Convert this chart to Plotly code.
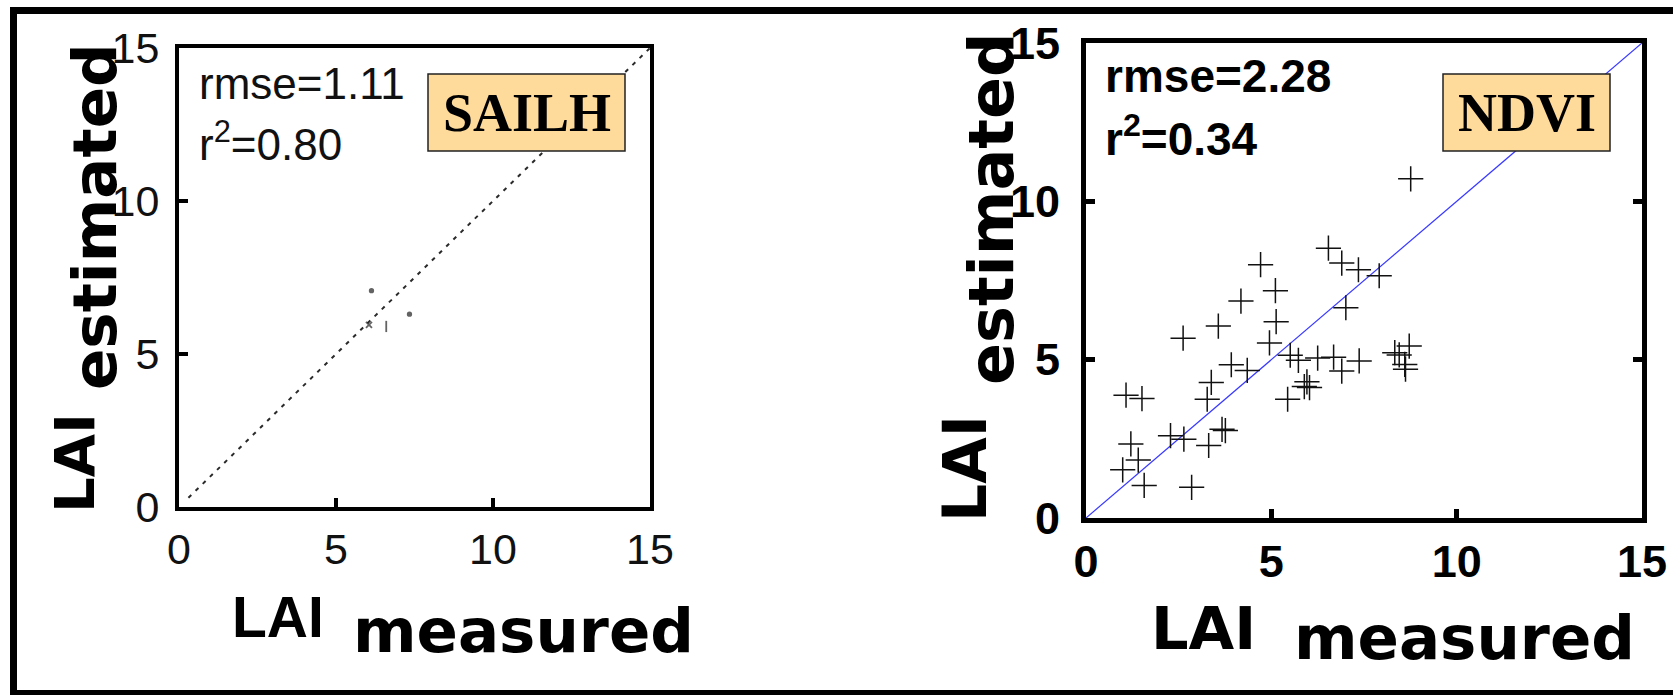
import plotly.graph_objects as go

W, H = 1673, 695

# ---------------- data ----------------
ticks = [0, 5, 10, 15]
tick_text = ["0", "5", "10", "15"]

# SAILH panel: 1:1 dashed line and a few stray marks
sailh_line_x = [0.3, 15.0]
sailh_line_y = [0.3, 15.0]
sailh_pts_x = [6.13, 7.34, 6.60, 6.05]
sailh_pts_y = [7.07, 6.30, 5.90, 5.95]
sailh_rmse = "rmse=1.11"
sailh_r2 = "r<sup>2</sup>=0.80"

# NDVI panel: measured vs estimated LAI
ndvi_measured = [8.76, 6.54, 6.90, 7.35, 7.91, 4.71, 5.11, 4.18, 5.13, 3.57,
                 2.62, 7.01, 4.95, 5.51, 5.73, 6.25, 6.68, 6.90, 7.37, 8.33,
                 8.45, 8.72, 8.60, 8.62, 3.92, 4.35, 3.38, 3.27, 1.08, 1.51,
                 5.44, 5.96, 5.89, 6.03, 2.28, 2.64, 3.67, 3.76, 3.31, 1.21,
                 1.41, 0.99, 1.57, 2.85]
ndvi_estimated = [10.71, 8.52, 8.05, 7.84, 7.65, 8.00, 7.18, 6.85, 6.20, 6.06,
                  5.68, 6.64, 5.53, 5.14, 4.98, 5.05, 5.08, 4.64, 4.96, 5.22,
                  5.15, 5.43, 4.85, 4.70, 4.84, 4.66, 4.28, 3.75, 3.88, 3.77,
                  3.75, 4.30, 4.15, 4.12, 2.60, 2.49, 2.80, 2.76, 2.29, 2.34,
                  1.83, 1.52, 1.03, 0.97]
ndvi_line_x = [0, 15]
ndvi_line_y = [0, 15]
ndvi_rmse = "rmse=2.28"
ndvi_r2 = "r<sup>2</sup>=0.34"


def px(x):
    return x / W


def py(y):
    return 1 - y / H


SANS = "Liberation Sans, Arial, sans-serif"
HEAVY = "DejaVu Sans, Liberation Sans, sans-serif"
SERIF = "Liberation Serif, Times New Roman, serif"

fig = go.Figure()

fig.add_trace(go.Scatter(x=sailh_line_x, y=sailh_line_y, mode="lines",
                         line=dict(color="#2a2a2a", width=2, dash="4px,6px"),
                         xaxis="x", yaxis="y", showlegend=False, hoverinfo="skip"))
fig.add_trace(go.Scatter(x=sailh_pts_x, y=sailh_pts_y, mode="markers",
                         marker=dict(symbol=["circle", "circle", "line-ns", "x-thin"],
                                     size=[3.5, 3.5, 8, 6], color="#222222",
                                     line=dict(color="#222222", width=1.8)),
                         xaxis="x", yaxis="y", showlegend=False))

fig.add_trace(go.Scatter(x=ndvi_line_x, y=ndvi_line_y, mode="lines",
                         line=dict(color="#3838ff", width=1.2),
                         xaxis="x2", yaxis="y2", showlegend=False, hoverinfo="skip"))
fig.add_trace(go.Scatter(x=ndvi_measured, y=ndvi_estimated, mode="markers",
                         marker=dict(symbol="cross-thin", size=18, color="#111111",
                                     line=dict(color="#111111", width=1.5)),
                         xaxis="x2", yaxis="y2", showlegend=False))


def axis(domain, anchor, lw, tfont, mirror, standoff):
    return dict(domain=domain, anchor=anchor, range=[0, 15], tickvals=ticks,
                ticktext=tick_text, ticks="inside", ticklen=9, tickwidth=lw - 0.5,
                tickcolor="black", showline=True, linewidth=lw, linecolor="black",
                mirror=mirror, showgrid=False, zeroline=False, tickfont=tfont,
                ticklabelstandoff=standoff, fixedrange=True, automargin=False)


left_tf = dict(family=SANS, size=43, color="#111111")
right_tf = dict(family=SANS, size=45, color="#000000", weight=700)

fig.update_layout(
    template="none",
    width=W, height=H,
    margin=dict(l=0, r=0, t=0, b=0, autoexpand=False),
    paper_bgcolor="white", plot_bgcolor="white",
    xaxis=axis([px(179), px(650)], "y", 4, left_tf, True, 1),
    yaxis=axis([py(507), py(48)], "x", 4, left_tf, True, 7),
    xaxis2=axis([px(1086), px(1642)], "y2", 5, right_tf, True, 0),
    yaxis2=axis([py(518), py(43)], "x2", 5, right_tf, "ticks", 12),
)

shapes = [
    dict(type="rect", xref="paper", yref="paper", x0=px(13.5), x1=1.02,
         y0=py(693.5), y1=py(10.5), line=dict(color="black", width=7), layer="above"),
    dict(type="rect", xref="paper", yref="paper", x0=px(428), x1=px(625),
         y0=py(151), y1=py(74), fillcolor="#FFDB9B",
         line=dict(color="#222222", width=1.5), layer="above"),
    dict(type="rect", xref="paper", yref="paper", x0=px(1443), x1=px(1610),
         y0=py(151), y1=py(74), fillcolor="#FFDB9B",
         line=dict(color="#222222", width=1.5), layer="above"),
]
fig.update_layout(shapes=shapes)


def ann(text, x, y, font, xanchor="center", yanchor="middle", angle=0):
    return dict(text=text, x=px(x), y=py(y), xref="paper", yref="paper",
                xanchor=xanchor, yanchor=yanchor, showarrow=False,
                textangle=angle, font=font)


annots = [
    # panel labels
    ann("<b>SAILH</b>", 526.5, 113, dict(family=SERIF, size=54, color="black")),
    ann("<b>NDVI</b>", 1526.5, 113, dict(family=SERIF, size=54, color="black")),
    # statistics
    ann(sailh_rmse, 197, 83, dict(family=SANS, size=44, color="#111111"), xanchor="left"),
    ann(sailh_r2, 197, 141, dict(family=SANS, size=44, color="#111111"), xanchor="left"),
    ann("<b>" + ndvi_rmse + "</b>", 1103, 76, dict(family=SANS, size=46, color="black"), xanchor="left"),
    ann("<b>" + ndvi_r2 + "</b>", 1103, 136, dict(family=SANS, size=46, color="black"), xanchor="left"),
    # left axis titles
    ann("<b>estimated</b>", 94, 217, dict(family=HEAVY, size=61, color="black"), angle=-90),
    ann("<b>LAI</b>", 74, 463, dict(family=HEAVY, size=56, color="black"), angle=-90),
    ann("<b>LAI</b>", 278, 617, dict(family=SANS, size=57, color="black")),
    ann("<b>measured</b>", 523, 630, dict(family=HEAVY, size=61, color="black")),
    # right axis titles
    ann("<b>estimated</b>", 991, 209, dict(family=HEAVY, size=62, color="black"), angle=-90),
    ann("<b>LAI</b>", 965, 469, dict(family=HEAVY, size=60, color="black"), angle=-90),
    ann("<b>LAI</b>", 1203, 628, dict(family=HEAVY, size=59, color="black")),
    ann("<b>measured</b>", 1464, 637, dict(family=HEAVY, size=61, color="black")),
]
fig.update_layout(annotations=annots)

fig.write_html("out.html")
